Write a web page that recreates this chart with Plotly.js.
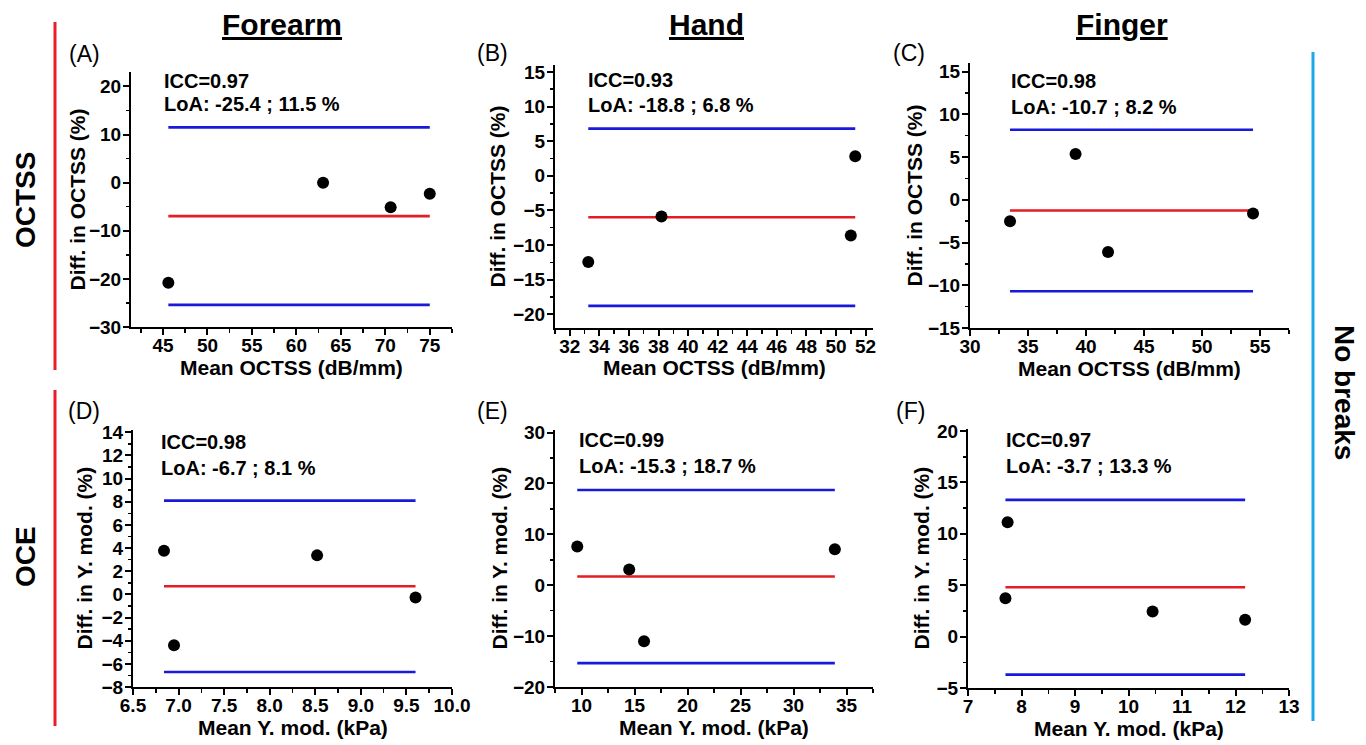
<!DOCTYPE html>
<html><head><meta charset="utf-8">
<script src="https://cdn.plot.ly/plotly-3.0.1.min.js"></script>
<style>html,body{margin:0;padding:0;background:#fff}#chart{width:1366px;height:745px}</style>
</head><body><div id="chart"></div>
<script>
// ---- Data (Bland-Altman plots) ----
// (A) Forearm, OCTSS
const meanA = [45.6, 63.0, 70.6, 75.0];
const diffA = [-20.8, 0.0, -5.1, -2.3];
const loaA = [-25.4, 11.5];
const biasA = -6.95;
// (B) Hand, OCTSS
const meanB = [33.25, 38.2, 51.0, 51.3];
const diffB = [-12.45, -5.9, -8.65, 2.8];
const loaB = [-18.8, 6.8];
const biasB = -6.0;
// (C) Finger, OCTSS
const meanC = [33.45, 39.1, 41.9, 54.4];
const diffC = [-2.5, 5.35, -6.1, -1.6];
const loaC = [-10.7, 8.2];
const biasC = -1.25;
// (D) Forearm, OCE
const meanD = [6.84, 6.95, 8.52, 9.60];
const diffD = [3.77, -4.4, 3.37, -0.26];
const loaD = [-6.7, 8.1];
const biasD = 0.7;
// (E) Hand, OCE
const meanE = [9.6, 14.5, 15.9, 33.9];
const diffE = [7.6, 3.07, -11.0, 7.06];
const loaE = [-15.3, 18.7];
const biasE = 1.7;
// (F) Finger, OCE
const meanF = [7.7, 7.74, 10.45, 12.18];
const diffF = [3.74, 11.13, 2.44, 1.63];
const loaF = [-3.7, 13.3];
const biasF = 4.8;

const iccLabels = ['ICC=0.97', 'ICC=0.93', 'ICC=0.98', 'ICC=0.98', 'ICC=0.99', 'ICC=0.97'];
const loaLabels = ['LoA: -25.4 ; 11.5 %', 'LoA: -18.8 ; 6.8 %', 'LoA: -10.7 ; 8.2 %',
                   'LoA: -6.7 ; 8.1 %', 'LoA: -15.3 ; 18.7 %', 'LoA: -3.7 ; 13.3 %'];
const panelLetters = ['(A)', '(B)', '(C)', '(D)', '(E)', '(F)'];
const columnTitles = ['Forearm', 'Hand', 'Finger'];
const rowTitles = ['OCTSS', 'OCE'];
const sideTitle = 'No breaks';
const xTitles = ['Mean OCTSS (dB/mm)', 'Mean OCTSS (dB/mm)', 'Mean OCTSS (dB/mm)',
                 'Mean Y. mod. (kPa)', 'Mean Y. mod. (kPa)', 'Mean Y. mod. (kPa)'];
const yTitles = ['Diff. in OCTSS (%)', 'Diff. in OCTSS (%)', 'Diff. in OCTSS (%)',
                 'Diff. in Y. mod. (%)', 'Diff. in Y. mod. (%)', 'Diff. in Y. mod. (%)'];
const xRanges = [[41.4, 77.5], [31, 52.5], [30, 57.5], [6.5, 10], [7.5, 37.5], [7, 13]];
const yRanges = [[-30, 23], [-22, 16], [-15, 16], [-8, 14.2], [-20, 30.5], [-5, 20.2]];
const xDtick = [5, 2, 5, 0.5, 5, 1];
const yDtick = [10, 5, 5, 2, 10, 5];
const xMinor = [2.5, 1, 2.5, 0.25, 2.5, 0.5];
const yMinor = [5, 2.5, 2.5, 1, 5, 2.5];
const xFormat = ['', '', '', '.1f', '', ''];

// ---- layout geometry (pixels) ----
const W = 1366, H = 745;
const boxes = [[131, 452, 72, 327], [555, 873, 65, 328], [970, 1289, 63, 328],
               [133, 452, 430, 687], [555, 873, 430, 687], [968, 1289, 429, 688]];
const textPos = [[162, 81, 104], [586, 80, 105], [1009, 81, 107],
                 [159, 442, 468], [577, 440, 466], [1004, 440, 466]];
const letterPos = [[84, 54], [492, 53], [909, 53], [84, 411], [492, 411], [911, 411]];
const yTitleX = [77, 497, 914, 84, 499, 921];
const xTitleY = [367, 367, 368, 727, 727, 728];

const means = [meanA, meanB, meanC, meanD, meanE, meanF];
const diffs = [diffA, diffB, diffC, diffD, diffE, diffF];
const loas = [loaA, loaB, loaC, loaD, loaE, loaF];
const biases = [biasA, biasB, biasC, biasD, biasE, biasF];

const FONT = 'Liberation Sans, Arial, Helvetica, sans-serif';
const BLUE = 'rgb(25,25,220)';
const RED = 'rgb(228,28,35)';

const px = v => v / W;
const py = v => 1 - v / H;

const traces = [];
const layout = {
  width: W, height: H,
  margin: {l: 0, r: 0, t: 0, b: 0},
  paper_bgcolor: '#fff', plot_bgcolor: '#fff',
  showlegend: false,
  font: {family: FONT, color: '#000', size: 19},
  annotations: [], shapes: []
};

function note(x, y, text, size, opts) {
  layout.annotations.push(Object.assign({
    xref: 'paper', yref: 'paper', x: px(x), y: py(y), xanchor: 'center', yanchor: 'middle',
    text: text, showarrow: false,
    font: {family: FONT, size: size, weight: 'bold', color: '#000'}
  }, opts || {}));
}

for (let i = 0; i < 6; i++) {
  const s = i === 0 ? '' : String(i + 1);
  const xa = 'x' + s, ya = 'y' + s;
  const x0 = Math.min(...means[i]), x1 = Math.max(...means[i]);
  [loas[i][1], loas[i][0]].forEach(v => traces.push({
    type: 'scatter', mode: 'lines', x: [x0, x1], y: [v, v], xaxis: xa, yaxis: ya,
    line: {color: BLUE, width: 2.6}, hoverinfo: 'skip'
  }));
  traces.push({
    type: 'scatter', mode: 'lines', x: [x0, x1], y: [biases[i], biases[i]], xaxis: xa, yaxis: ya,
    line: {color: RED, width: 2.6}, hoverinfo: 'skip'
  });
  traces.push({
    type: 'scatter', mode: 'markers', x: means[i], y: diffs[i], xaxis: xa, yaxis: ya,
    marker: {color: '#000', size: 12}
  });
  const b = boxes[i];
  const mk = () => ({
    showgrid: false, zeroline: false, showline: true, linecolor: '#000', linewidth: 2,
    ticks: 'outside', ticklen: 6, tickwidth: 2, tickcolor: '#000',
    tickfont: {family: FONT, size: 19, weight: 700, color: '#000'},
    fixedrange: true
  });
  layout['xaxis' + s] = Object.assign(mk(), {
    domain: [px(b[0]), px(b[1])], anchor: ya, range: xRanges[i],
    tick0: 0, dtick: xDtick[i], tickformat: xFormat[i], ticklabelstandoff: -6,
    minor: {ticks: 'outside', ticklen: 3.5, tickwidth: 1.5, tickcolor: '#000', dtick: xMinor[i], tick0: 0}
  });
  layout['yaxis' + s] = Object.assign(mk(), {
    domain: [py(b[3]), py(b[2])], anchor: xa, range: yRanges[i],
    tick0: 0, dtick: yDtick[i], ticklabelstandoff: -2,
    minor: {ticks: 'outside', ticklen: 3.5, tickwidth: 1.5, tickcolor: '#000', dtick: yMinor[i], tick0: 0}
  });
  // axis titles
  note((b[0] + b[1]) / 2, xTitleY[i], xTitles[i], 21);
  note(yTitleX[i], (b[2] + b[3]) / 2, yTitles[i], 21, {textangle: -90});
  // statistics text
  const t = textPos[i];
  note(t[0], t[1], iccLabels[i], 20, {xanchor: 'left'});
  note(t[0], t[2], loaLabels[i], 20, {xanchor: 'left'});
  const l = letterPos[i];
  note(l[0], l[1], panelLetters[i], 23, {font: {family: FONT, size: 23, weight: 'normal', color: '#000'}});
}

// column headers
const colX = [282, 706, 1122];
columnTitles.forEach((c, j) => note(colX[j], 25, '<u>' + c + '</u>', 30));
// row labels
const rowY = [200, 557];
rowTitles.forEach((r, j) => note(25, rowY[j], r, 28, {textangle: -90}));
note(1345, 392, sideTitle, 28, {textangle: 90});
// decorative group bars
layout.shapes.push(
  {type: 'line', xref: 'paper', yref: 'paper', x0: px(55), x1: px(55), y0: py(22), y1: py(370), line: {color: 'rgb(235,30,40)', width: 3}},
  {type: 'line', xref: 'paper', yref: 'paper', x0: px(55), x1: px(55), y0: py(390), y1: py(726), line: {color: 'rgb(235,30,40)', width: 3}},
  {type: 'line', xref: 'paper', yref: 'paper', x0: px(1313), x1: px(1313), y0: py(52), y1: py(721), line: {color: 'rgb(25,170,235)', width: 3}}
);

Plotly.newPlot('chart', traces, layout, {displayModeBar: false, staticPlot: true});
</script>
</body></html>
